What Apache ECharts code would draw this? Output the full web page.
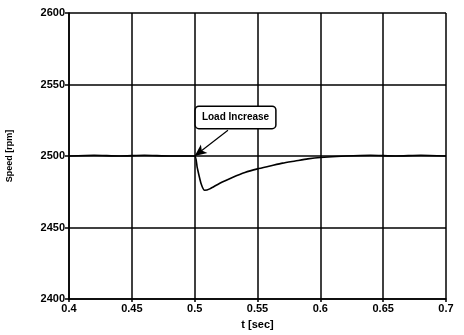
<!DOCTYPE html>
<html>
<head>
<meta charset="utf-8">
<script src="https://cdn.jsdelivr.net/npm/echarts@6/dist/echarts.min.js"></script>
<style>
  html, body { margin: 0; padding: 0; background: #fff; }
  #chart { width: 464px; height: 335px; }
</style>
</head>
<body>
<div id="chart"></div>
<script>
// time [sec] and rotor speed [rpm]
const timeSec = [0.4, 0.42, 0.44, 0.46, 0.48, 0.5, 0.502, 0.505, 0.508, 0.512, 0.52, 0.53, 0.54, 0.55, 0.56, 0.57, 0.58, 0.59, 0.6, 0.62, 0.64, 0.66, 0.68, 0.7];
const speedRpm = [2500, 2500.5, 2500, 2500.5, 2500, 2500, 2492, 2481, 2476, 2477, 2481, 2485, 2488.5, 2491, 2493, 2495, 2496.5, 2498, 2499, 2500, 2500.5, 2500, 2500.5, 2500];
const xTicks = [0.4, 0.45, 0.5, 0.55, 0.6, 0.65, 0.7];
const yTicks = [2400, 2450, 2500, 2550, 2600];
const noteText = 'Load Increase';
const notePos = [0.5325, 2527];
const arrowFrom = [0.5265, 2518];
const arrowTo = [0.5, 2500];

const font = "'Liberation Sans', Arial, sans-serif";
const chart = echarts.init(document.getElementById('chart'));

chart.setOption({
  animation: false,
  grid: { left: 69, right: 18, top: 13, bottom: 36, outerBoundsMode: 'none' },
  xAxis: {
    type: 'value',
    min: xTicks[0],
    max: xTicks[xTicks.length - 1],
    interval: 0.05,
    name: 't [sec]',
    nameLocation: 'middle',
    nameGap: 20,
    nameTextStyle: { fontFamily: font, fontWeight: 'bold', fontSize: 11, color: '#000' },
    axisLine: { lineStyle: { color: '#000', width: 1.5 } },
    axisTick: { show: true, length: 3, lineStyle: { color: '#000', width: 1.5 } },
    axisLabel: {
      fontFamily: font, fontWeight: 'bold', fontSize: 11, color: '#000', margin: 4,
      formatter: v => String(+v.toFixed(2))
    },
    splitLine: { show: true, lineStyle: { color: '#000', width: 1.5 } }
  },
  yAxis: {
    type: 'value',
    min: yTicks[0],
    max: yTicks[yTicks.length - 1],
    interval: 50,
    name: 'Speed [rpm]',
    nameLocation: 'middle',
    nameGap: 55,
    nameTextStyle: { fontFamily: font, fontWeight: 'bold', fontSize: 9, color: '#000' },
    axisLine: { show: true, lineStyle: { color: '#000', width: 1.5 } },
    axisTick: { show: true, length: 4, lineStyle: { color: '#000', width: 1.5 } },
    axisLabel: {
      fontFamily: font, fontWeight: 'bold', fontSize: 11, color: '#000', margin: 4,
      formatter: v => String(v)
    },
    splitLine: { show: true, lineStyle: { color: '#000', width: 1.5 } }
  },
  series: [{
    type: 'line',
    data: timeSec.map((t, i) => [t, speedRpm[i]]),
    showSymbol: false,
    smooth: 0.2,
    lineStyle: { color: '#000', width: 1.6 },
    markLine: {
      silent: true,
      symbol: ['none', 'arrow'],
      symbolSize: [8, 12],
      label: { show: false },
      lineStyle: { color: '#000', width: 1.2, type: 'solid' },
      data: [[{ coord: arrowFrom }, { coord: arrowTo }]]
    },
    markPoint: {
      silent: true,
      symbol: 'rect',
      symbolSize: 0,
      data: [{ coord: notePos }],
      label: {
        show: true,
        position: 'inside',
        formatter: noteText,
        fontFamily: font,
        fontWeight: 'bold',
        fontSize: 10,
        color: '#000',
        backgroundColor: '#fff',
        borderColor: '#000',
        borderWidth: 1.5,
        borderRadius: 3,
        padding: [6, 6, 5, 6]
      }
    }
  }]
});
</script>
</body>
</html>
